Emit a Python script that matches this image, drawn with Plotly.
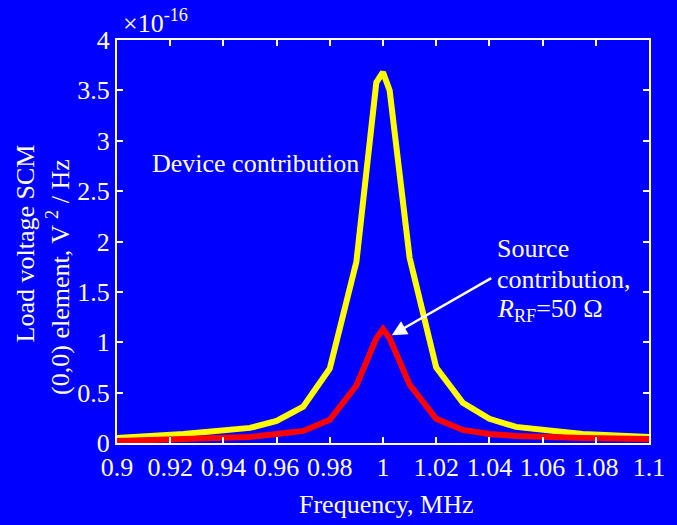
import plotly.graph_objects as go

# Frequency samples, MHz
freq_mhz = [0.9, 0.925, 0.95, 0.96, 0.97, 0.98, 0.99, 0.9975, 1.0,
            1.0025, 1.01, 1.02, 1.03, 1.04, 1.05, 1.075, 1.1]
# Load voltage SCM (0,0) element, in units of 1e-16 V^2/Hz
device_e16 = [0.05, 0.09, 0.15, 0.22, 0.36, 0.74, 1.80, 3.58, 3.68,
              3.50, 1.84, 0.75, 0.40, 0.24, 0.16, 0.09, 0.06]
source_e16 = [0.02, 0.04, 0.06, 0.09, 0.12, 0.23, 0.57, 1.04, 1.13,
              1.04, 0.58, 0.24, 0.13, 0.09, 0.07, 0.05, 0.04]

x_ticks = [0.9, 0.92, 0.94, 0.96, 0.98, 1.0, 1.02, 1.04, 1.06, 1.08, 1.1]
x_ticktext = ["0.9", "0.92", "0.94", "0.96", "0.98", "1", "1.02", "1.04", "1.06", "1.08", "1.1"]
y_ticks = [0, 0.5, 1, 1.5, 2, 2.5, 3, 3.5, 4]
y_ticktext = ["0", "0.5", "1", "1.5", "2", "2.5", "3", "3.5", "4"]

FONT = "Liberation Serif"
BLUE = "#0000FF"
W, H = 677, 525
L, R, T, B = 117, 20, 40, 82
PW, PH = W - L - R, H - T - B


def px_x(p):
    return (p - L) / PW


def px_y(p):
    return (H - B - p) / PH


fig = go.Figure()
fig.add_trace(go.Scatter(x=freq_mhz, y=device_e16, mode="lines",
                         line=dict(color="#FFFF00", width=6), showlegend=False))
fig.add_trace(go.Scatter(x=freq_mhz, y=source_e16, mode="lines",
                         line=dict(color="#FF0000", width=6), showlegend=False))

axis_common = dict(showline=True, linecolor="white", linewidth=2, mirror="ticks",
                   ticks="inside", ticklen=6, tickwidth=2, tickcolor="white",
                   showgrid=False, zeroline=False,
                   tickfont=dict(family=FONT, size=26, color="white"))

fig.update_xaxes(range=[0.9, 1.1], tickvals=x_ticks, ticktext=x_ticktext, **axis_common)
fig.update_yaxes(range=[0, 4], tickvals=y_ticks, ticktext=y_ticktext, **axis_common)

txt = dict(family=FONT, size=26, color="white")
ann = []
# exponent
ann.append(dict(x=px_x(121), y=px_y(40), xref="paper", yref="paper", xanchor="left",
                yanchor="bottom", text="×10<sup>-16</sup>", showarrow=False, font=txt))
# y title lines
ann.append(dict(x=px_x(24), y=px_y(243), xref="paper", yref="paper", xanchor="center",
                yanchor="middle", text="Load voltage SCM", textangle=-90,
                showarrow=False, font=txt))
ann.append(dict(x=px_x(57), y=px_y(277), xref="paper", yref="paper", xanchor="center",
                yanchor="middle", text="(0,0) element, V <sup>2</sup> / Hz", textangle=-90,
                showarrow=False, font=txt))
# x title
ann.append(dict(x=px_x(390), y=px_y(505), xref="paper", yref="paper", xanchor="center",
                yanchor="middle", text="Frequency, MHz", showarrow=False, font=txt))
# labels
ann.append(dict(x=px_x(150), y=px_y(163), xref="paper", yref="paper", xanchor="left",
                yanchor="middle", text="Device contribution", showarrow=False, font=txt))
ann.append(dict(x=px_x(501), y=px_y(248), xref="paper", yref="paper", xanchor="left",
                yanchor="middle", text="Source", showarrow=False, font=txt))
ann.append(dict(x=px_x(501), y=px_y(279), xref="paper", yref="paper", xanchor="left",
                yanchor="middle", text="contribution,", showarrow=False, font=txt))
ann.append(dict(x=px_x(501), y=px_y(310), xref="paper", yref="paper", xanchor="left",
                yanchor="middle", text="<i>R</i><sub>RF</sub>=50 Ω", showarrow=False, font=txt))
# arrow
ann.append(dict(x=1.0033, y=1.07, xref="x", yref="y", text="", showarrow=True,
                ax=101, ay=-58, arrowcolor="white", arrowwidth=2.5, arrowhead=2,
                arrowsize=1.2))

fig.update_layout(width=W, height=H, margin=dict(l=L, r=R, t=T, b=B),
                  paper_bgcolor=BLUE, plot_bgcolor=BLUE, annotations=ann,
                  font=dict(family=FONT, color="white"))

fig.write_html("out.html")
